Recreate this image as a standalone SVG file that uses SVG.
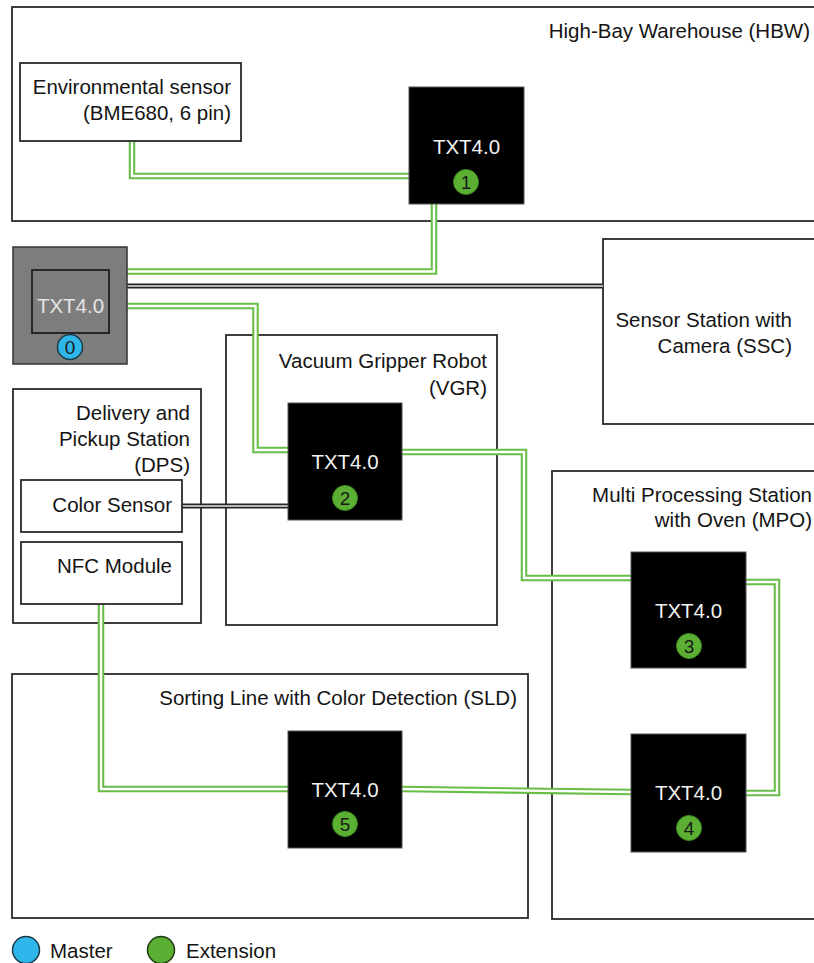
<svg xmlns="http://www.w3.org/2000/svg" width="814" height="963" viewBox="0 0 814 963">
<style>
.t{font-family:"Liberation Sans",Arial,sans-serif;font-size:20.5px;fill:#141414}
.r{text-anchor:end}
.c{text-anchor:middle}
.box{fill:#fff;stroke:#2a2a2a;stroke-width:1.8}
.txt{fill:#000;stroke:#555;stroke-width:1}
.tw{font-family:"Liberation Sans",Arial,sans-serif;font-size:20.5px;fill:#f2f2f2;text-anchor:middle}
.num{font-family:"Liberation Sans",Arial,sans-serif;font-size:19px;fill:#1a1a1a;text-anchor:middle}
.ext{fill:#5bb033;stroke:#3f8a20;stroke-width:1}
.mst{fill:#2fb6ea;stroke:#1c3b48;stroke-width:1.5}
.go{fill:none;stroke:#68bd47;stroke-width:6.5}
.gi{fill:none;stroke:#fff;stroke-width:2.4}
.bo{fill:none;stroke:#262626;stroke-width:5}
.bi{fill:none;stroke:#e6e6e6;stroke-width:1.5}
</style>
<rect width="814" height="963" fill="#fff"/>
<g id="hbw">
<rect class="box" x="12" y="7" width="830" height="214"/>
<text class="t r" x="810" y="38">High-Bay Warehouse (HBW)</text>
</g>
<g id="ssc">
<rect class="box" x="603" y="239" width="230" height="185"/>
<text class="t r" x="792" y="327">Sensor Station with</text>
<text class="t r" x="792" y="353">Camera (SSC)</text>
</g>
<g id="vgr">
<rect class="box" x="226" y="335" width="271" height="290"/>
<text class="t r" x="487" y="368">Vacuum Gripper Robot</text>
<text class="t r" x="487" y="395">(VGR)</text>
</g>
<g id="dps">
<rect class="box" x="13" y="389" width="188" height="234"/>
<text class="t r" x="190" y="420">Delivery and</text>
<text class="t r" x="190" y="446">Pickup Station</text>
<text class="t r" x="190" y="472">(DPS)</text>
</g>
<g id="mpo">
<rect class="box" x="552" y="471" width="300" height="448"/>
<text class="t r" x="812" y="502">Multi Processing Station</text>
<text class="t r" x="812" y="527">with Oven (MPO)</text>
</g>
<g id="sld">
<rect class="box" x="12" y="674" width="516" height="244"/>
<text class="t r" x="517" y="705">Sorting Line with Color Detection (SLD)</text>
</g>
<g id="connectors">
<path class="go" d="M132,141 V176 H409"/><path class="gi" d="M132,141 V176 H409"/>
<path class="go" d="M127,271.5 H434 V204"/><path class="gi" d="M127,271.5 H434 V204"/>
<path class="bo" d="M127,286 H603"/><path class="bi" d="M127,286 H603"/>
<path class="go" d="M127,306 H255.5 V450 H288"/><path class="gi" d="M127,306 H255.5 V450 H288"/>
<path class="bo" d="M182,506 H288"/><path class="bi" d="M182,506 H288"/>
<path class="go" d="M402,452 H524 V578 H631"/><path class="gi" d="M402,452 H524 V578 H631"/>
<path class="go" d="M746,582 H777 V793 H746"/><path class="gi" d="M746,582 H777 V793 H746"/>
<path class="go" d="M631,792 L402,789"/><path class="gi" d="M631,792 L402,789"/>
<path class="go" d="M101,604 V789 H288"/><path class="gi" d="M101,604 V789 H288"/>
</g>
<g id="env-sensor">
<rect class="box" x="20" y="63" width="221" height="78"/>
<text class="t r" x="231" y="94">Environmental sensor</text>
<text class="t r" x="231" y="120">(BME680, 6 pin)</text>
</g>
<g id="color-sensor">
<rect class="box" x="21" y="480" width="161" height="52"/>
<text class="t r" x="172" y="512">Color Sensor</text>
</g>
<g id="nfc-module">
<rect class="box" x="21" y="542" width="161" height="62"/>
<text class="t r" x="172" y="573">NFC Module</text>
</g>
<g id="txt0">
<rect x="13" y="247" width="114" height="117" fill="#7d7d7d" stroke="#333" stroke-width="1.5"/>
<rect x="32" y="270" width="77" height="63" fill="#7d7d7d" stroke="#1e1e1e" stroke-width="1.8"/>
<text class="tw" x="70.5" y="313" style="fill:#e4e4e4">TXT4.0</text>
<circle class="mst" cx="70" cy="347" r="12.5"/>
<text class="num" x="70" y="354">0</text>
</g>
<g id="txt1">
<rect class="txt" x="409" y="87" width="115" height="117"/>
<text class="tw" x="466.5" y="154">TXT4.0</text>
<circle class="ext" cx="466" cy="182" r="12.5"/>
<text class="num" x="466" y="189">1</text>
</g>
<g id="txt2">
<rect class="txt" x="288" y="403" width="114" height="117"/>
<text class="tw" x="345" y="469">TXT4.0</text>
<circle class="ext" cx="345" cy="498" r="12.5"/>
<text class="num" x="345" y="505">2</text>
</g>
<g id="txt3">
<rect class="txt" x="631" y="552" width="115" height="116"/>
<text class="tw" x="688.5" y="618">TXT4.0</text>
<circle class="ext" cx="689" cy="646" r="12.5"/>
<text class="num" x="689" y="653">3</text>
</g>
<g id="txt4">
<rect class="txt" x="631" y="734" width="115" height="118"/>
<text class="tw" x="688.5" y="800">TXT4.0</text>
<circle class="ext" cx="689" cy="828" r="12.5"/>
<text class="num" x="689" y="835">4</text>
</g>
<g id="txt5">
<rect class="txt" x="288" y="731" width="114" height="117"/>
<text class="tw" x="345" y="797">TXT4.0</text>
<circle class="ext" cx="345" cy="824" r="12.5"/>
<text class="num" x="345" y="831">5</text>
</g>
<g id="legend">
<circle class="mst" cx="26" cy="950" r="13.5"/>
<text class="t" x="50" y="958">Master</text>
<circle class="ext" cx="161" cy="950" r="13.5" style="stroke:#1e3a12;stroke-width:1.5"/>
<text class="t" x="186" y="958">Extension</text>
</g>
</svg>
